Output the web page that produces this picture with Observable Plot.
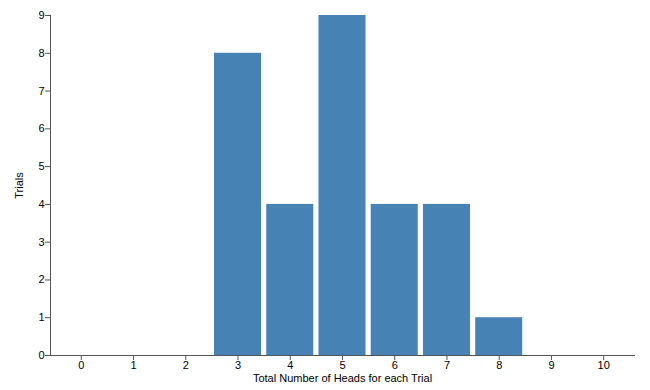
<!DOCTYPE html>
<html>
<head>
<meta charset="utf-8">
<script src="https://cdn.jsdelivr.net/npm/d3@7"></script>
<script src="https://cdn.jsdelivr.net/npm/@observablehq/plot@0.6"></script>
<style>
  html, body { margin: 0; padding: 0; background: #fff; }
  #chart svg g[aria-label$="label"] text { font-size: 11px; }
</style>
</head>
<body>
<div id="chart"></div>
<script>
const heads = ["0", "1", "2", "3", "4", "5", "6", "7", "8", "9", "10"];
const trials = [0, 0, 0, 8, 4, 9, 4, 4, 1, 0, 0];
const yTicks = [0, 1, 2, 3, 4, 5, 6, 7, 8, 9];
const xTitle = "Total Number of Heads for each Trial";
const yTitle = "Trials";

const data = heads.map((h, i) => ({heads: h, trials: trials[i]}));

const chart = Plot.plot({
  width: 650,
  height: 390,
  marginLeft: 50,
  marginRight: 16,
  marginTop: 15,
  marginBottom: 35,
  style: {fontFamily: "'Liberation Sans', Arial, sans-serif", fontSize: "10px", color: "#000", background: "#fff"},
  x: {domain: heads, paddingInner: 0.1, paddingOuter: 0.14, round: false, label: null},
  y: {domain: [0, 9], label: null},
  marks: [
    Plot.barY(data, {x: "heads", y: "trials", fill: "steelblue"}),
    Plot.axisX({tickSize: 5, tickPadding: 1, stroke: "#555", label: xTitle, labelAnchor: "center", labelArrow: "none", labelOffset: 26, fontSize: 10}),
    Plot.axisY({ticks: yTicks, tickSize: 5, tickPadding: 1, stroke: "#555", label: yTitle, labelAnchor: "center", labelArrow: "none", labelOffset: 35, fontSize: 10}),
    Plot.frame({anchor: "left", stroke: "#555"}),
    Plot.frame({anchor: "bottom", stroke: "#555"})
  ]
});
document.getElementById("chart").appendChild(chart);
</script>
</body>
</html>
